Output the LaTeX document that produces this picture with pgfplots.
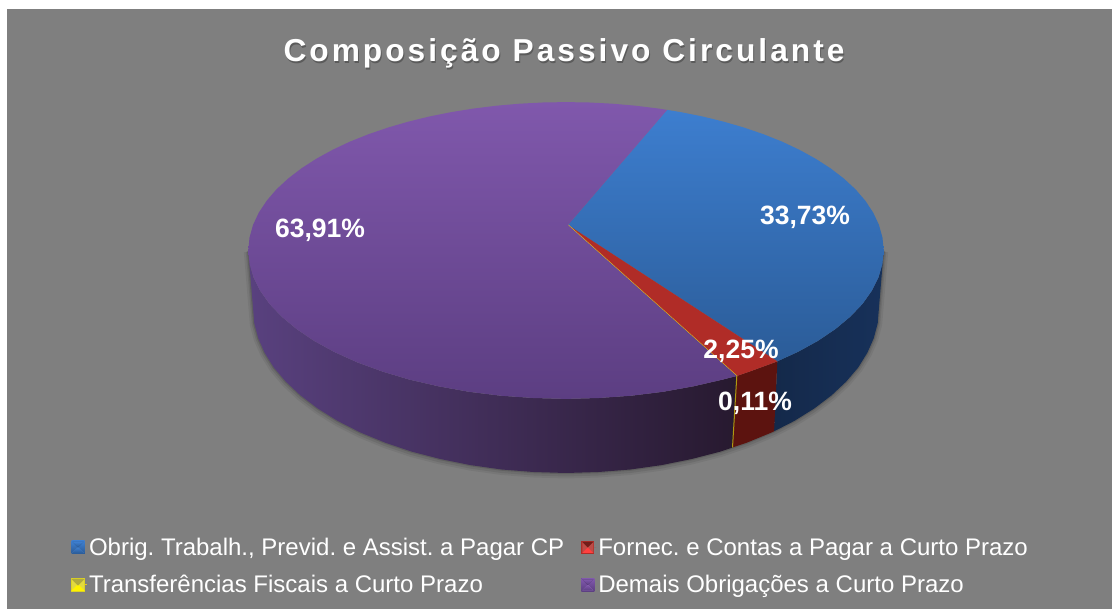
\documentclass[border=0pt]{standalone}
\usepackage{fontspec}
\setmainfont{Liberation Sans}
\newfontfamily\titlefont[LetterSpace=9.5]{Liberation Sans}
\usepackage{pgfplots}
\usepackage{pgfplotstable}
\pgfplotsset{compat=1.18}
\frenchspacing
\definecolor{bggray}{HTML}{7F7F7F}
\definecolor{blueA}{HTML}{3D7ECF}
\definecolor{blueB}{HTML}{2B5C98}
\definecolor{blueW}{HTML}{14294A}
\definecolor{blueWb}{HTML}{17315A}
\definecolor{redT}{HTML}{B02C27}
\definecolor{redW}{HTML}{5C130F}
\definecolor{yelT}{HTML}{EBCB10}
\definecolor{yelW}{HTML}{B09A10}
\definecolor{purA}{HTML}{8058AC}
\definecolor{purB}{HTML}{5C3E82}
\definecolor{purWa}{HTML}{59417F}
\definecolor{purWb}{HTML}{442F60}
\definecolor{purWc}{HTML}{27192F}
\pgfplotstableread{
x y
568 225
667.1 109.9
680.5 112.1
702.2 116.4
723.4 121.6
743.8 127.5
763.4 134.2
782 141.6
799.4 149.8
815.6 158.7
830.5 168.3
843.8 178.5
855.5 189.3
865.3 200.7
873.2 212.6
879 225
882.5 237.7
883.7 250.8
882.4 264
878.5 277.3
871.9 290.6
862.6 303.8
850.4 316.6
835.5 329
817.9 340.9
797.7 352
777.3 361.3
}\blueTop
\pgfplotstableread{
x y
568 225
777.3 361.3
774.9 362.3
749.8 371.5
736.8 376
}\redTop
\pgfplotstableread{
x y
568 225
736.8 376
}\yelTop
\pgfplotstableread{
x y
568 225
736.8 376
722.7 379.6
693.6 386.3
663.1 391.8
631.4 395.7
598.9 398
566 398.9
533.1 398
500.6 395.7
468.9 391.8
438.4 386.3
409.3 379.6
382.2 371.5
357.1 362.3
334.3 352
314.1 340.9
296.5 329
281.6 316.6
269.4 303.8
260.1 290.6
253.5 277.3
249.6 264
248.3 250.8
249.5 237.7
253 225
258.8 212.6
266.7 200.7
276.5 189.3
288.2 178.5
301.5 168.3
316.4 158.7
332.6 149.8
350 141.6
368.6 134.2
388.2 127.5
408.6 121.6
429.8 116.4
451.5 112.1
473.8 108.5
496.5 105.7
519.5 103.7
542.7 102.5
566 102.1
589.3 102.5
612.5 103.7
635.5 105.7
658.2 108.5
667.1 109.9
}\purTop
\pgfplotstableread{
x y
883.7 250.8
882.4 264
878.5 277.3
871.9 290.6
862.6 303.8
850.4 316.6
835.5 329
817.9 340.9
797.7 352
777.3 361.3
774.1 431.3
794.2 421
814.1 408.6
831.5 395.4
846.1 381.7
858.2 367.5
867.3 352.8
873.8 338.1
877.7 323.3
878.9 308.6
}\blueWall
\pgfplotstableread{
x y
777.3 361.3
774.9 362.3
749.8 371.5
736.8 376
732.5 447.5
747 442.6
771.8 432.4
774.1 431.3
}\redWall
\pgfplotstableread{
x y
736.8 376
732.5 447.5
}\yelWall
\pgfplotstableread{
x y
736.8 376
722.7 379.6
693.6 386.3
663.1 391.8
631.4 395.7
598.9 398
566 398.9
533.1 398
500.6 395.7
468.9 391.8
438.4 386.3
409.3 379.6
382.2 371.5
357.1 362.3
334.3 352
314.1 340.9
296.5 329
281.6 316.6
269.4 303.8
260.1 290.6
253.5 277.3
249.6 264
248.3 250.8
253.1 308.6
254.3 323.3
258.2 338.1
264.7 352.8
273.8 367.5
285.9 381.7
300.5 395.4
317.9 408.6
337.8 421
360.2 432.4
385 442.6
411.6 451.6
440.3 459
470.4 465.1
501.6 469.5
533.6 472
566 473
598.4 472
630.4 469.5
661.6 465.1
691.7 459
720.4 451.6
732.5 447.5
}\purWall
\pgfplotstableread{
x y
883.7 250.8
878.9 308.6
877.7 323.3
873.8 338.1
867.3 352.8
858.2 367.5
846.1 381.7
831.5 395.4
814.1 408.6
794.2 421
774.1 431.3
747 442.6
720.4 451.6
691.7 459
661.6 465.1
630.4 469.5
598.4 472
566 473
533.6 472
501.6 469.5
470.4 465.1
440.3 459
411.6 451.6
385 442.6
360.2 432.4
337.8 421
317.9 408.6
300.5 395.4
285.9 381.7
273.8 367.5
264.7 352.8
258.2 338.1
254.3 323.3
253.1 308.6
248.3 250.8
}\rimEdge
\newcommand{\bevel}[3]{%
  \path (0pt,0pt) -- (15pt,0pt);
  \fill[#2] (0pt,-6.5pt) rectangle (13pt,6.5pt);
  \fill[#2!85!white] (1pt,5.5pt) -- (1pt,-5.5pt) -- (6.5pt,0pt) -- cycle;
  \fill[#2!85!white] (12pt,5.5pt) -- (12pt,-5.5pt) -- (6.5pt,0pt) -- cycle;
  \fill[#1] (1pt,-5.5pt) -- (12pt,-5.5pt) -- (6.5pt,0pt) -- cycle;
  \fill[#3] (1pt,5.5pt) -- (12pt,5.5pt) -- (6.5pt,0pt) -- cycle;
}
\begin{document}
\begin{tikzpicture}
\begin{axis}[
  scale only axis, width=1112pt, height=609pt,
  xmin=0, xmax=1112, ymin=0, ymax=609, y dir=reverse,
  hide axis, clip=false,
  legend columns=2,
  legend style={at={(axis cs:71,536)}, anchor=north west, draw=none, fill=none,
    inner sep=0pt, outer sep=0pt, cells={anchor=west},
    font=\fontsize{24}{27}\selectfont\frenchspacing, text=white,
    /tikz/every even column/.append style={column sep=15pt},
    /tikz/row sep=14.5pt},
]
\addplot[forget plot, fill=white, draw=none] coordinates {(0,0) (1112,0) (1112,609) (0,609)} -- cycle;
\addplot[forget plot, fill=bggray, draw=none] coordinates {(7,9) (1112,9) (1112,609) (7,609)} -- cycle;
% soft shadow
\addplot[forget plot, draw=black, opacity=.06, line width=9pt] table[y expr=\thisrow{y}+1] {\rimEdge};
\addplot[forget plot, draw=black, opacity=.08, line width=5pt] table[y expr=\thisrow{y}+1] {\rimEdge};
\addplot[forget plot, draw=black, opacity=.12, line width=2.5pt] table {\rimEdge};
% walls
\addplot[forget plot, draw=none, left color=blueW, right color=blueWb] table {\blueWall} -- cycle;
\addplot[forget plot, draw=none, fill=redW] table {\redWall} -- cycle;
\addplot[forget plot, draw=none, left color=purWa, middle color=purWb, right color=purWc] table {\purWall} -- cycle;
\addplot[forget plot, draw=yelW, line width=1pt] table {\yelWall};
% top faces
\addplot[draw=none, top color=blueA, bottom color=blueB,
  legend image code/.code={\bevel{blueA!80!white}{blueB}{blueB!70!black}}] table {\blueTop} -- cycle;
\addlegendentry{Obrig. Trabalh., Previd. e Assist. a Pagar CP}
\addplot[draw=none, fill=redT,
  legend image code/.code={\bevel{red!75!white}{redT}{redT!65!black}}] table {\redTop} -- cycle;
\addlegendentry{Fornec. e Contas a Pagar a Curto Prazo}
\addplot[draw=yelT, line width=1pt,
  legend image code/.code={\bevel{yellow}{yellow!85!black}{yellow!65!black}}] table {\yelTop};
\addlegendentry{Transferências Fiscais a Curto Prazo}
\addplot[draw=none, top color=purA, bottom color=purB,
  legend image code/.code={\bevel{purA!75!white}{purB}{purB!65!black}}] table {\purTop} -- cycle;
\addlegendentry{Demais Obrigações a Curto Prazo}
% labels
\node[text=white, font=\fontsize{26.5}{30}\selectfont\bfseries] at (axis cs:805,217) {33,73\%};
\node[text=white, font=\fontsize{26.5}{30}\selectfont\bfseries] at (axis cs:320,230) {63,91\%};
\node[text=white, font=\fontsize{26.5}{30}\selectfont\bfseries] at (axis cs:741,351) {2,25\%};
\node[text=white, font=\fontsize{26.5}{30}\selectfont\bfseries] at (axis cs:755,403) {0,11\%};
\node[text=black, opacity=.28, font=\fontsize{31.7}{36}\selectfont\titlefont\bfseries] at (axis cs:565,55) {Composição Passivo Circulante};
\node[text=white, font=\fontsize{31.7}{36}\selectfont\titlefont\bfseries] at (axis cs:564,53) {Composição Passivo Circulante};
\end{axis}
\end{tikzpicture}
\end{document}
